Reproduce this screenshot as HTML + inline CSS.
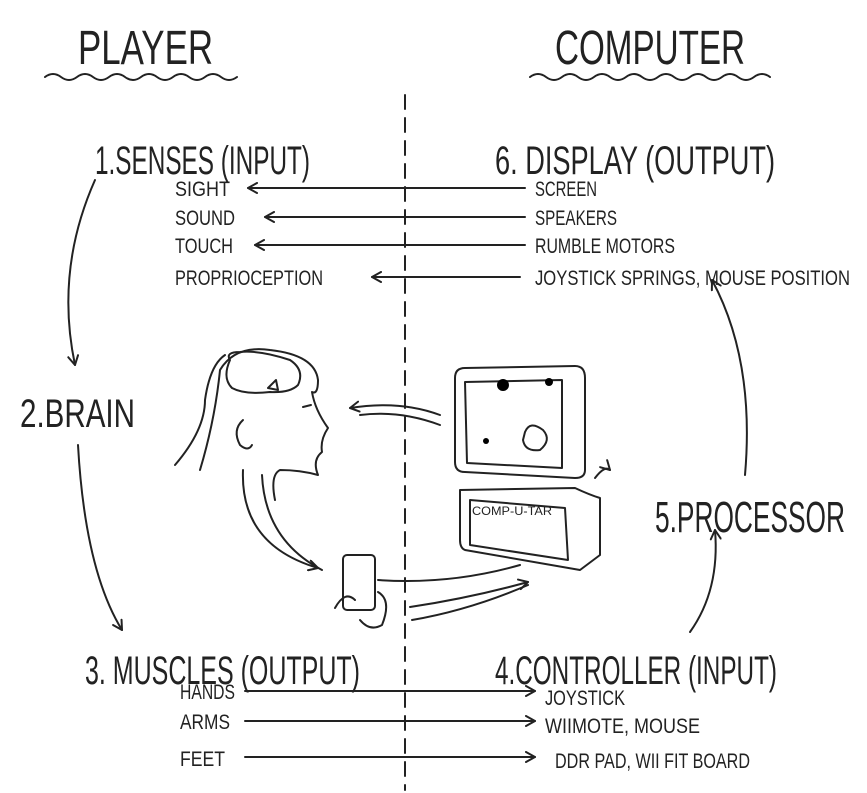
<!DOCTYPE html>
<html><head><style>
html,body{margin:0;padding:0;background:#fff;}
svg{display:block;}
text{font-family:"Liberation Sans",sans-serif;fill:#222;}
.b{font-size:40px;}
.s{font-size:21px;}
path,line,rect,ellipse,polyline{fill:none;stroke:#222;stroke-width:2;stroke-linecap:round;stroke-linejoin:round;}
</style></head><body>
<svg width="867" height="793" viewBox="0 0 867 793">
<defs><marker id="a" markerWidth="12" markerHeight="12" refX="10" refY="6" orient="auto" markerUnits="userSpaceOnUse"><path d="M1,1 L10,6 L1,11" /></marker></defs>

<text class="b" x="78" y="64" textLength="135" lengthAdjust="spacingAndGlyphs" style="font-size:48px">PLAYER</text>
<path d="M45,77 q8,-6 16,0 t16,0 t16,0 t16,0 t16,0 t16,0 t16,0 t16,0 t16,0 t16,0 t16,0 t16,0"/>
<text class="b" x="555" y="64" textLength="190" lengthAdjust="spacingAndGlyphs" style="font-size:48px">COMPUTER</text>
<path d="M530,77 q8,-6 16,0 t16,0 t16,0 t16,0 t16,0 t16,0 t16,0 t16,0 t16,0 t16,0 t16,0 t16,0 t16,0 t16,0 t16,0"/>

<line x1="405" y1="95" x2="405" y2="790" stroke-dasharray="14,9"/>

<text class="b" x="95" y="174" textLength="215" lengthAdjust="spacingAndGlyphs">1.SENSES (INPUT)</text>
<text class="b" x="495" y="174" textLength="280" lengthAdjust="spacingAndGlyphs">6. DISPLAY (OUTPUT)</text>
<text class="s" x="175" y="196" textLength="55" lengthAdjust="spacingAndGlyphs">SIGHT</text>
<text class="s" x="175" y="225" textLength="60" lengthAdjust="spacingAndGlyphs">SOUND</text>
<text class="s" x="175" y="253" textLength="58" lengthAdjust="spacingAndGlyphs">TOUCH</text>
<text class="s" x="175" y="285" textLength="148" lengthAdjust="spacingAndGlyphs">PROPRIOCEPTION</text>
<text class="s" x="535" y="196" textLength="62" lengthAdjust="spacingAndGlyphs">SCREEN</text>
<text class="s" x="535" y="225" textLength="82" lengthAdjust="spacingAndGlyphs">SPEAKERS</text>
<text class="s" x="535" y="253" textLength="140" lengthAdjust="spacingAndGlyphs">RUMBLE MOTORS</text>
<text class="s" x="535" y="285" textLength="315" lengthAdjust="spacingAndGlyphs">JOYSTICK SPRINGS, MOUSE POSITION</text>
<line x1="525" y1="188" x2="248" y2="188" marker-end="url(#a)"/>
<line x1="525" y1="217" x2="265" y2="217" marker-end="url(#a)"/>
<line x1="525" y1="245" x2="255" y2="245" marker-end="url(#a)"/>
<line x1="520" y1="277" x2="372" y2="277" marker-end="url(#a)"/>

<text class="b" x="20" y="427" textLength="115" lengthAdjust="spacingAndGlyphs">2.BRAIN</text>
<text class="b" x="655" y="532" textLength="190" lengthAdjust="spacingAndGlyphs" style="font-size:44px">5.PROCESSOR</text>

<path d="M95,180 Q55,270 75,365" marker-end="url(#a)"/>
<path d="M78,445 Q85,570 122,630" marker-end="url(#a)"/>
<path d="M690,632 Q720,590 715,530" marker-end="url(#a)"/>
<path d="M745,475 Q755,360 712,280" marker-end="url(#a)"/>

<text class="b" x="85" y="684" textLength="275" lengthAdjust="spacingAndGlyphs">3. MUSCLES (OUTPUT)</text>
<text class="b" x="495" y="684" textLength="282" lengthAdjust="spacingAndGlyphs">4.CONTROLLER (INPUT)</text>
<text class="s" x="180" y="699" textLength="55" lengthAdjust="spacingAndGlyphs">HANDS</text>
<text class="s" x="180" y="729" textLength="50" lengthAdjust="spacingAndGlyphs">ARMS</text>
<text class="s" x="180" y="766" textLength="45" lengthAdjust="spacingAndGlyphs">FEET</text>
<text class="s" x="545" y="705" textLength="80" lengthAdjust="spacingAndGlyphs">JOYSTICK</text>
<text class="s" x="545" y="733" textLength="155" lengthAdjust="spacingAndGlyphs">WIIMOTE, MOUSE</text>
<text class="s" x="555" y="768" textLength="195" lengthAdjust="spacingAndGlyphs">DDR PAD, WII FIT BOARD</text>
<line x1="245" y1="691" x2="535" y2="691" marker-end="url(#a)"/>
<line x1="245" y1="721" x2="535" y2="721" marker-end="url(#a)"/>
<line x1="245" y1="757" x2="535" y2="757" marker-end="url(#a)"/>

<!-- head -->
<path d="M200,470 Q215,420 220,370 Q235,345 270,350 Q315,355 318,380 Q318,395 312,392 Q315,410 328,428 Q320,440 322,452 Q312,460 318,475 Q300,470 280,470 Q270,475 275,500"/>
<path d="M175,465 Q205,430 205,400 Q210,365 225,355"/>
<path d="M230,360 Q225,352 240,352 Q260,350 290,360 Q305,370 298,385 Q290,393 270,392 Q245,395 232,388 Q222,378 230,360Z"/>
<path d="M268,388 L276,380 L278,390Z"/>
<path d="M243,420 Q232,430 240,445 Q248,452 252,445"/>
<path d="M303,407 l8,-2"/>
<!-- arrows head -->
<path d="M243,470 Q240,545 318,568" marker-end="url(#a)"/>
<path d="M262,475 Q265,540 322,570"/>
<path d="M440,415 Q400,400 350,408" marker-end="url(#a)"/>
<path d="M440,425 Q400,410 360,415"/>
<!-- controller -->
<rect x="343" y="555" width="32" height="55" rx="4"/>
<path d="M335,608 Q345,590 355,600 M378,592 Q392,600 382,625 Q370,632 360,620"/>
<path d="M378,580 Q450,585 520,565 M410,607 Q470,598 528,582" marker-end="url(#a)"/>
<path d="M412,620 Q470,610 528,585"/>
<!-- monitor -->
<path d="M455,378 Q455,368 465,368 L575,366 Q585,366 585,378 L585,470 Q585,478 575,478 L465,472 Q455,472 455,462Z"/>
<path d="M465,382 L562,380 L562,468 L467,463Z"/>
<circle cx="503" cy="385" r="6"/><circle cx="486" cy="441" r="3"/><circle cx="549" cy="382" r="4"/>
<path d="M525,432 Q530,420 543,430 Q552,440 540,450 Q525,452 523,440Z"/>
<path d="M595,478 Q605,465 610,470" marker-end="url(#a)"/>
<!-- box -->
<path d="M460,490 L575,488 Q590,495 600,498 L600,555 L580,570 L465,550 Q460,548 460,540Z"/>
<path d="M470,500 L565,508 L568,560 L470,545Z"/>
<text x="472" y="515" style="font-size:12px" textLength="80" lengthAdjust="spacingAndGlyphs">COMP-U-TAR</text>
</svg>
</body></html>
